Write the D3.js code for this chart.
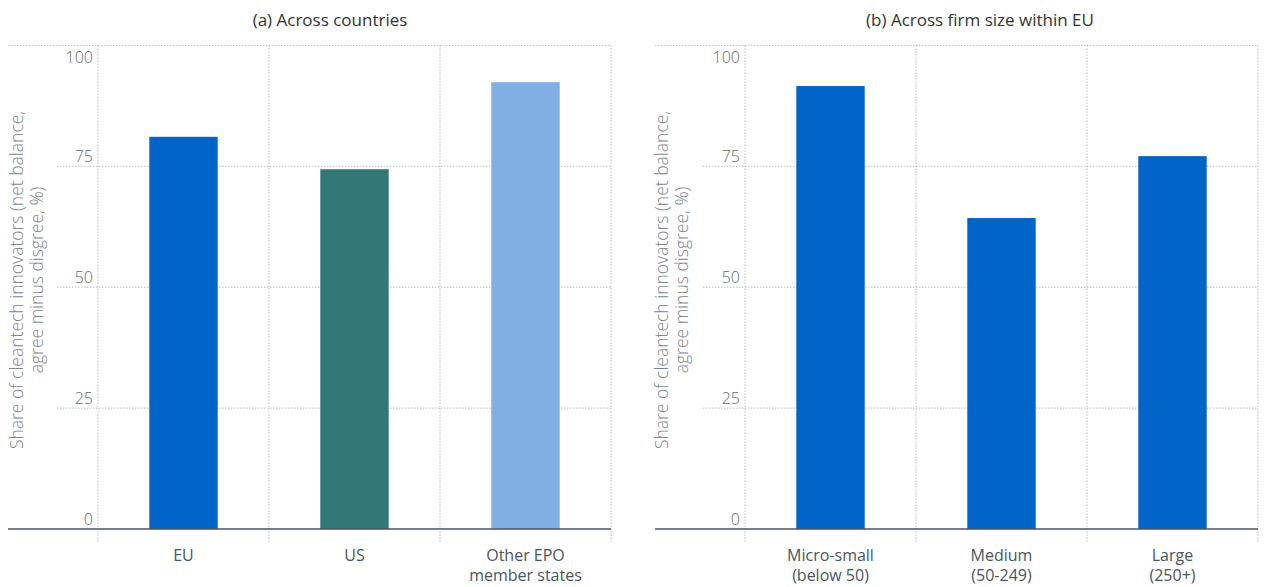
<!DOCTYPE html>
<html><head><meta charset="utf-8">
<script src="https://cdn.jsdelivr.net/npm/d3@7"></script>
<style>
body{margin:0;background:#fff;}
svg{display:block;font-family:"Open Sans","Noto Sans",sans-serif;}
</style></head>
<body><svg id="c" width="1264" height="587"></svg>
<script>
const yTicks = [0, 25, 50, 75, 100];
const yTitle = ["Share of cleantech innovators (net balance,", "agree minus disgree, %)"];

const titleA = "(a) Across countries";
const categoriesA = [["EU"], ["US"], ["Other EPO", "member states"]];
const valuesA = [81.1, 74.4, 92.4];
const colorsA = ["#0064c8", "#327876", "#80afe3"];

const titleB = "(b) Across firm size within EU";
const categoriesB = [["Micro-small", "(below 50)"], ["Medium", "(50-249)"], ["Large", "(250+)"]];
const valuesB = [91.6, 64.3, 77.1];
const colorsB = ["#0064c8", "#0064c8", "#0064c8"];

const svg = d3.select("#c");
const y = d3.scaleLinear().domain([0, 100]).range([529, 45.4]);

function panel(o) {
  const g = svg.append("g");
  const x = d3.scaleBand().domain(o.cats.map((d, i) => i)).range([o.x0, o.x1]).paddingInner(0.6).paddingOuter(0.3);
  g.append("text").attr("x", o.tx).attr("y", 26).attr("text-anchor", "middle")
    .attr("font-size", 17).attr("fill", "#333").text(o.title);
  yTicks.forEach(t => {
    if (t === 0) return;
    g.append("line").attr("x1", t === 100 ? o.left : o.gx).attr("x2", o.x1)
      .attr("y1", y(t)).attr("y2", y(t))
      .attr("stroke", "#b8bcc0").attr("stroke-width", 1).attr("stroke-dasharray", "1.5,1.5");
  });
  const bounds = [o.x0].concat(o.cats.map((d, i) => x(i) + x.bandwidth() / 2 + x.step() / 2));
  bounds.forEach(b => {
    g.append("line").attr("x1", b).attr("x2", b).attr("y1", y(100)).attr("y2", 542)
      .attr("stroke", "#b8bcc0").attr("stroke-width", 1).attr("stroke-dasharray", "1.5,1.5");
  });
  g.selectAll("rect").data(o.vals).join("rect")
    .attr("x", (d, i) => x(i)).attr("width", x.bandwidth())
    .attr("y", d => y(d)).attr("height", d => y(0) - y(d))
    .attr("fill", (d, i) => o.colors[i]);
  g.append("line").attr("x1", o.left).attr("x2", o.x1).attr("y1", y(0)).attr("y2", y(0))
    .attr("stroke", "#4b5560").attr("stroke-width", 1.6);
  yTicks.forEach(t => {
    g.append("text").attr("x", o.x0 - 5).attr("y", t === 100 ? y(t) + 18 : y(t) - 4)
      .attr("text-anchor", "end").attr("font-size", 16).attr("font-weight", 300)
      .attr("fill", "#5f6870").text(t);
  });
  o.cats.forEach((c, i) => {
    const tx = g.append("text").attr("text-anchor", "middle").attr("font-size", 16)
      .attr("fill", "#4b5560");
    c.forEach((line, j) => {
      tx.append("tspan").attr("x", x(i) + x.bandwidth() / 2).attr("y", 561 + j * 20).text(line);
    });
  });
  const yt = g.append("text").attr("transform", `translate(${o.yx},${280}) rotate(-90)`)
    .attr("text-anchor", "middle").attr("font-size", 17.5).attr("font-weight", 300).attr("fill", "#7d858d");
  yTitle.forEach((line, j) => {
    yt.append("tspan").attr("x", 0).attr("y", j * 20).text(line);
  });
}

panel({title: titleA, tx: 330, cats: categoriesA, vals: valuesA, colors: colorsA,
  x0: 98, x1: 611, left: 8, gx: 57, yx: 23});
panel({title: titleB, tx: 980, cats: categoriesB, vals: valuesB, colors: colorsB,
  x0: 745, x1: 1258, left: 655, gx: 703, yx: 668});
</script>
</body></html>
